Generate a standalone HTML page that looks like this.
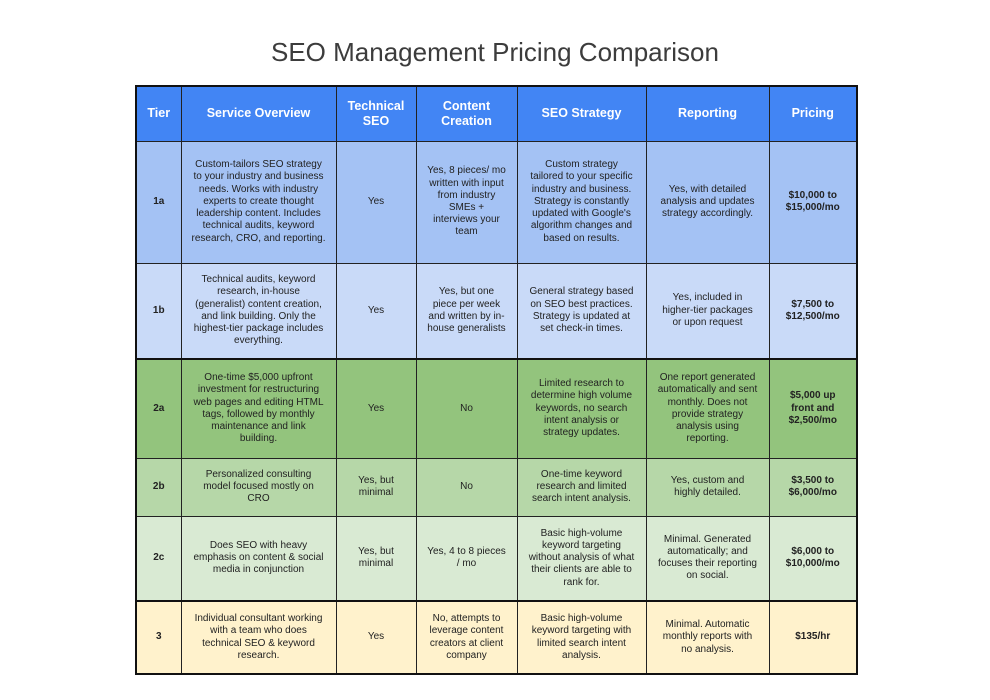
<!DOCTYPE html>
<html><head><meta charset="utf-8"><style>
body{margin:0;width:990px;height:700px;background:#fff;font-family:"Liberation Sans",Arial,sans-serif;position:relative;overflow:hidden}
h1{position:absolute;top:37px;left:0;width:990px;text-align:center;margin:0;font-weight:normal;font-size:26px;color:#3c3c3c}
table{position:absolute;left:135px;top:85px;border-collapse:collapse;table-layout:fixed;width:721px;border:2px solid #111}
td,th{border:1px solid #222;text-align:center;vertical-align:middle;font-size:10px;line-height:12.2px;color:#222;padding:0 10px;overflow:hidden}
th{background:#4285f4;color:#fff;font-size:12.5px;line-height:15px;font-weight:bold;padding:0 4px}
td.t,td.p{font-weight:bold}
.r1a td{background:#a4c2f4}.r1b td{background:#c9daf8}.r2a td{background:#93c47d}.r2b td{background:#b6d7a8}.r2c td{background:#d9ead3}.r3 td{background:#fff2cc}
tr.g td{border-top:2px solid #111}
</style></head><body>
<h1>SEO Management Pricing Comparison</h1>
<table>
<colgroup><col style="width:45px"><col style="width:155px"><col style="width:80px"><col style="width:101px"><col style="width:129px"><col style="width:123px"><col style="width:88px"></colgroup>
<tr style="height:55px"><th>Tier</th><th>Service Overview</th><th>Technical SEO</th><th>Content Creation</th><th>SEO Strategy</th><th>Reporting</th><th>Pricing</th></tr>
<tr class="r1a" style="height:122px"><td class="t">1a</td><td>Custom-tailors SEO strategy to your industry and business needs. Works with industry experts to create thought leadership content. Includes technical audits, keyword research, CRO, and reporting.</td><td>Yes</td><td>Yes, 8 pieces/ mo written with input from industry SMEs + interviews your team</td><td>Custom strategy tailored to your specific industry and business. Strategy is constantly updated with Google's algorithm changes and based on results.</td><td>Yes, with detailed analysis and updates strategy accordingly.</td><td class="p">$10,000 to $15,000/mo</td></tr>
<tr class="r1b" style="height:96px"><td class="t">1b</td><td>Technical audits, keyword research, in-house (generalist) content creation, and link building. Only the highest-tier package includes everything.</td><td>Yes</td><td>Yes, but one piece per week and written by in-house generalists</td><td>General strategy based on SEO best practices. Strategy is updated at set check-in times.</td><td>Yes, included in higher-tier packages or upon request</td><td class="p">$7,500 to $12,500/mo</td></tr>
<tr class="r2a g" style="height:99px"><td class="t">2a</td><td>One-time $5,000 upfront investment for restructuring web pages and editing HTML tags, followed by monthly maintenance and link building.</td><td>Yes</td><td>No</td><td>Limited research to determine high volume keywords, no search intent analysis or strategy updates.</td><td>One report generated automatically and sent monthly. Does not provide strategy analysis using reporting.</td><td class="p">$5,000 up front and $2,500/mo</td></tr>
<tr class="r2b" style="height:58px"><td class="t">2b</td><td>Personalized consulting model focused mostly on CRO</td><td>Yes, but minimal</td><td>No</td><td>One-time keyword research and limited search intent analysis.</td><td>Yes, custom and highly detailed.</td><td class="p">$3,500 to $6,000/mo</td></tr>
<tr class="r2c" style="height:85px"><td class="t">2c</td><td>Does SEO with heavy emphasis on content &amp; social media in conjunction</td><td>Yes, but minimal</td><td>Yes, 4 to 8 pieces / mo</td><td>Basic high-volume keyword targeting without analysis of what their clients are able to rank for.</td><td>Minimal. Generated automatically; and focuses their reporting on social.</td><td class="p">$6,000 to $10,000/mo</td></tr>
<tr class="r3 g" style="height:73px"><td class="t">3</td><td>Individual consultant working with a team who does technical SEO &amp; keyword research.</td><td>Yes</td><td>No, attempts to leverage content creators at client company</td><td>Basic high-volume keyword targeting with limited search intent analysis.</td><td>Minimal. Automatic monthly reports with no analysis.</td><td class="p">$135/hr</td></tr>
</table>
</body></html>
